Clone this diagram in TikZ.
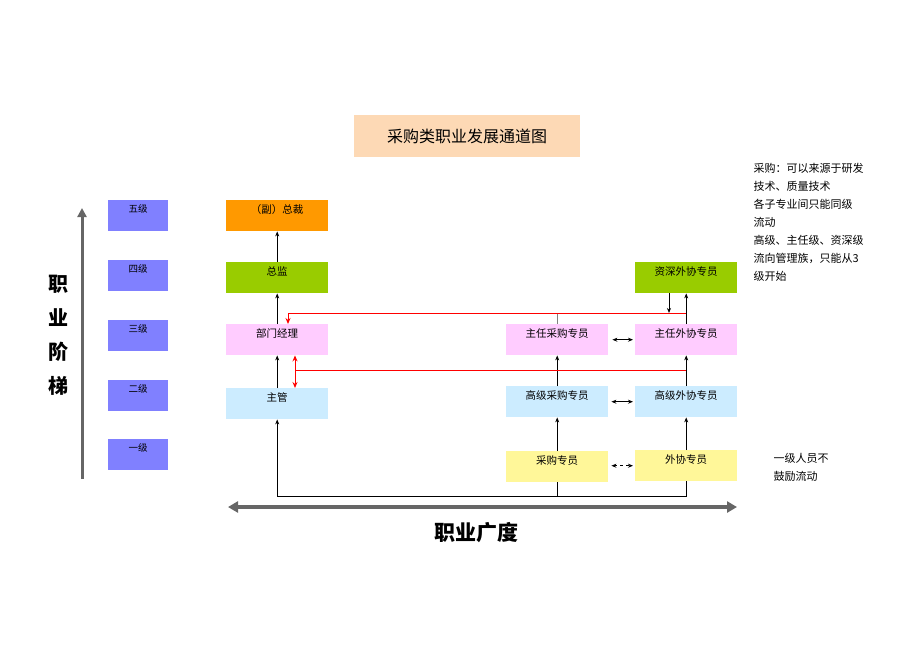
\documentclass[tikz,border=0pt]{standalone}
\usepackage{fontspec}
\setmainfont{Noto Sans CJK SC}
\usetikzlibrary{arrows.meta}
\definecolor{lvl}{HTML}{8080FF}
\definecolor{org}{HTML}{FF9900}
\definecolor{grn}{HTML}{99CC00}
\definecolor{pnk}{HTML}{FFCCFF}
\definecolor{blu}{HTML}{CCECFF}
\definecolor{yel}{HTML}{FFF799}
\definecolor{pch}{HTML}{FDD9B5}
\begin{document}
\begin{tikzpicture}[x=1pt,y=-1pt,
  box/.style={draw=none,minimum width=102pt,minimum height=31pt,inner sep=0pt,anchor=north west,font=\fontsize{10.5}{12}\selectfont,text depth=13pt},
  lv/.style={fill=lvl,minimum width=60pt,minimum height=31pt,inner sep=0pt,anchor=north west,font=\fontsize{9.5}{11}\selectfont,text depth=15pt},
  ar/.style={-{Stealth[length=5pt,width=4pt]},black,line width=0.8pt},
  ln/.style={black,line width=0.8pt},
  dar/.style={{Stealth[length=5pt,width=4pt]}-{Stealth[length=5pt,width=4pt]},black,line width=0.8pt},
  redl/.style={draw=red,line width=1pt},
  note/.style={anchor=north west,align=left,font=\fontsize{11}{18}\selectfont}]
\useasboundingbox (0,0) rectangle (920,651);
\node[fill=pch,minimum width=226pt,minimum height=42pt,anchor=north west,inner sep=0pt,font=\fontsize{16}{18}\selectfont] (title) at (354,115) {采购类职业发展通道图};
\node[lv] (l5) at (108,200) {五级};
\node[lv] (l4) at (108,260) {四级};
\node[lv] (l3) at (108,320) {三级};
\node[lv] (l2) at (108,380) {二级};
\node[lv] (l1) at (108,439) {一级};
\node[box,fill=org] (vp) at (226,200) {（副）总裁};
\node[box,fill=grn] (zj) at (226,262) {总监};
\node[box,fill=pnk] (bm) at (226,324) {部门经理};
\node[box,fill=blu] (zg) at (226,388) {主管};
\node[box,fill=pnk] (zc) at (506,324) {主任采购专员};
\node[box,fill=pnk] (zw) at (635,324) {主任外协专员};
\node[box,fill=grn] (sw) at (635,262) {资深外协专员};
\node[box,fill=blu] (gc) at (506,386) {高级采购专员};
\node[box,fill=blu] (gw) at (635,386) {高级外协专员};
\node[box,fill=yel] (cg) at (506,451) {采购专员};
\node[box,fill=yel] (wx) at (635,450) {外协专员};
% vertical chain left
\draw[ar] (zg.north) -- (bm.south);
\draw[ar] (bm.north) -- (zj.south);
\draw[ar] (zj.north) -- (vp.south);
% bottom connector
\coordinate (b1) at (cg.south |- 0,496);
\coordinate (b2) at (wx.south |- 0,496);
\coordinate (b0) at (zg.south |- 0,496);
\draw[ln] (cg.south) -- (b1);
\draw[ln] (wx.south) -- (b2) -- (b0);
\draw[ar] (b0) -- (zg.south);
% right chains
\draw[ar] (cg.north) -- (gc.south);
\draw[ar] (gc.north) -- (zc.south);
\draw[ar] (wx.north) -- (gw.south);
\draw[ar] (gw.north) -- (zw.south);
\draw[ar] (zw.north) -- (sw.south);
\coordinate (r1) at (zw.north |- 0,313);
\coordinate (r1b) at (zc.north |- 0,313);
\coordinate (r1l) at (288,313);
\coordinate (sd) at (669,313);
\draw[ar] (sw.south -| sd) -- (sd);
\draw[gray,line width=0.8pt] (zc.north) -- (r1b);
\draw[redl] (r1) -- (r1l);
\draw[redl,-{Stealth[length=6pt,width=5pt]}] (r1l) -- (bm.north -| r1l);
\coordinate (r2) at (zw.north |- 0,370);
\coordinate (r2l) at (295,370);
\draw[redl] (r2) -- (r2l);
\draw[redl,{Stealth[length=6pt,width=5pt]}-{Stealth[length=6pt,width=5pt]}] (bm.south -| r2l) -- (zg.north -| r2l);
% horizontal exchanges
\draw[dar] ([xshift=4pt]zc.east) -- ([xshift=-2pt]zw.west);
\draw[dar] ([xshift=3pt]gc.east) -- ([xshift=-2pt]gw.west);
\draw[dar,dashed] ([xshift=3pt]cg.east |- wx.east) -- ([xshift=-2pt]wx.west);
% axes
\coordinate (v0) at (82,479);
\coordinate (v1) at (82,208);
\draw[gray!80!black,line width=3pt,-{Triangle[length=9pt,width=9pt]}] (v0) -- (v1);
\coordinate (h0) at (228,507);
\coordinate (h1) at (737,507);
\draw[gray!80!black,line width=4pt,{Triangle[length=10pt,width=11pt]}-{Triangle[length=10pt,width=11pt]}] (h0) -- (h1);
\node[font=\bfseries\fontsize{20}{34}\selectfont,align=center,anchor=north] (vl) at (58,272) {职\\业\\阶\\梯};
\node[font=\bfseries\fontsize{21}{23}\selectfont] (hl) at (476,533) {职业广度};
\node[note] (n1) at (750,160) {采购：可以来源于研发\\技术、质量技术\\各子专业间只能同级\\流动\\高级、主任级、资深级\\流向管理族，只能从3\\级开始};
\node[note] (n2) at (770,450) {一级人员不\\鼓励流动};
\end{tikzpicture}
\end{document}
